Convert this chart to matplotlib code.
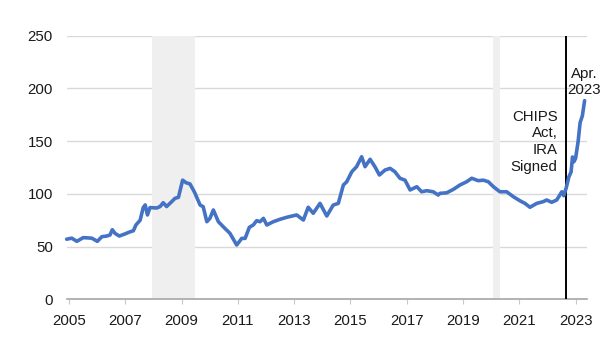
import matplotlib
matplotlib.use("Agg")
import matplotlib.pyplot as plt
from matplotlib import font_manager

# ---- data ----
years = [
    2004.92, 2005.10, 2005.28, 2005.51, 2005.81, 2006.01, 2006.17, 2006.34, 2006.46, 2006.54,
    2006.64, 2006.79, 2006.99, 2007.17, 2007.29, 2007.38, 2007.53, 2007.64, 2007.71, 2007.79,
    2007.88, 2008.12, 2008.24, 2008.35, 2008.47, 2008.65, 2008.77, 2008.89, 2009.04, 2009.16,
    2009.30, 2009.42, 2009.48, 2009.66, 2009.77, 2009.90, 2010.01, 2010.13, 2010.31, 2010.48,
    2010.72, 2010.96, 2011.14, 2011.26, 2011.41, 2011.55, 2011.67, 2011.79, 2011.91, 2012.03,
    2012.26, 2012.50, 2012.74, 2013.09, 2013.33, 2013.50, 2013.68, 2013.92, 2014.16, 2014.39,
    2014.57, 2014.75, 2014.87, 2015.05, 2015.22, 2015.40, 2015.52, 2015.70, 2015.87, 2016.03,
    2016.23, 2016.41, 2016.58, 2016.76, 2016.94, 2017.12, 2017.36, 2017.53, 2017.71, 2017.94,
    2018.12, 2018.18, 2018.42, 2018.66, 2018.89, 2019.13, 2019.31, 2019.54, 2019.72, 2019.90,
    2020.08, 2020.31, 2020.55, 2020.79, 2021.02, 2021.20, 2021.38, 2021.62, 2021.85, 2021.97,
    2022.15, 2022.33, 2022.51, 2022.58, 2022.67, 2022.76, 2022.84, 2022.89, 2022.94, 2023.00,
    2023.09, 2023.16, 2023.24, 2023.32,
]
values = [
    57, 58, 55, 58.5, 58, 55, 59.4, 60, 61, 66,
    62.5, 60, 62, 64, 65, 70.5, 75, 87, 89.5, 80,
    87, 86.6, 88, 91.6, 88, 92.6, 95.8, 96.7, 113, 110.6,
    109.4, 103.7, 100.5, 89.4, 87.8, 73.6, 76.8, 84.7, 73.6, 68.9,
    62.6, 51.5, 57.8, 57.8, 68.3, 70.5, 74.6, 73.6, 76.8, 70.5,
    73.6, 75.9, 77.8, 80, 75.2, 87.3, 81.6, 91, 79, 89.4,
    91, 108.4, 111.5, 121, 125.8, 135.2, 125.8, 132.8, 125.8, 117.9,
    122.6, 124.2, 121, 114.8, 113, 103.7, 106.8, 102, 103, 102,
    98.9, 100.5, 101, 104.3, 108.4, 111.5, 114.8, 112.5, 113, 111.5,
    106.8, 102, 102, 97.3, 93.5, 91, 87.3, 91, 92.6, 94.2,
    92, 94.2, 102, 98.3, 106, 116, 120.8, 135, 130.5, 133.7,
    149.7, 167.5, 174, 188.4,
]
recessions = [(2007.95, 2009.48), (2020.08, 2020.30)]
event_year = 2022.67
yticks = [0, 50, 100, 150, 200, 250]
xticks = list(range(2005, 2024, 2))
event_label = "CHIPS\nAct,\nIRA\nSigned"
end_label = "Apr.\n2023"

# ---- fonts ----
available = {f.name for f in font_manager.fontManager.ttflist}
font = "Liberation Sans" if "Liberation Sans" in available else "DejaVu Sans"
plt.rcParams["font.family"] = [font, "DejaVu Sans"]

fig = plt.figure(figsize=(6.05, 3.48), dpi=100)
ax = fig.add_axes([0.1102, 0.1399, 0.8598, 0.7575])

text_color = "#1a1a1a"
grid_color = "#d9d9d9"
axis_color = "#a6a6a6"
fs = 10.8

for y in yticks[1:]:
    ax.axhline(y, color=grid_color, lw=1.0, zorder=0)

for a, b in recessions:
    ax.axvspan(a, b, color="#efefef", lw=0, zorder=0.5)

ax.axvline(event_year, color="black", lw=1.4, zorder=3)

ax.plot(years, values, color="#4472C4", lw=2.6, zorder=4, solid_joinstyle="round",
        solid_capstyle="round", clip_on=False)

ax.set_xlim(2004.92, 2023.40)
ax.set_ylim(0, 250)

for s in ["top", "right", "left"]:
    ax.spines[s].set_visible(False)
ax.spines["bottom"].set_color(axis_color)
ax.spines["bottom"].set_linewidth(1.2)

ax.set_yticks(yticks)
ax.set_yticklabels([str(v) for v in yticks])
ax.set_xticks(xticks)
ax.set_xticklabels([str(v) for v in xticks])
ax.tick_params(axis="y", length=0, pad=10, labelsize=fs, labelcolor=text_color)
ax.tick_params(axis="x", length=3.5, width=0.8, color="#c8c8c8", direction="out",
               pad=7, labelsize=fs, labelcolor=text_color)

ax.text(2022.36, 149.5, event_label, ha="right", va="center", fontsize=fs,
        linespacing=1.25, color=text_color, zorder=5)
ax.text(2023.30, 206, end_label, ha="center", va="center", fontsize=fs,
        linespacing=1.2, color=text_color, zorder=5, clip_on=False)

fig.savefig("out.png", dpi=100, facecolor="white")
